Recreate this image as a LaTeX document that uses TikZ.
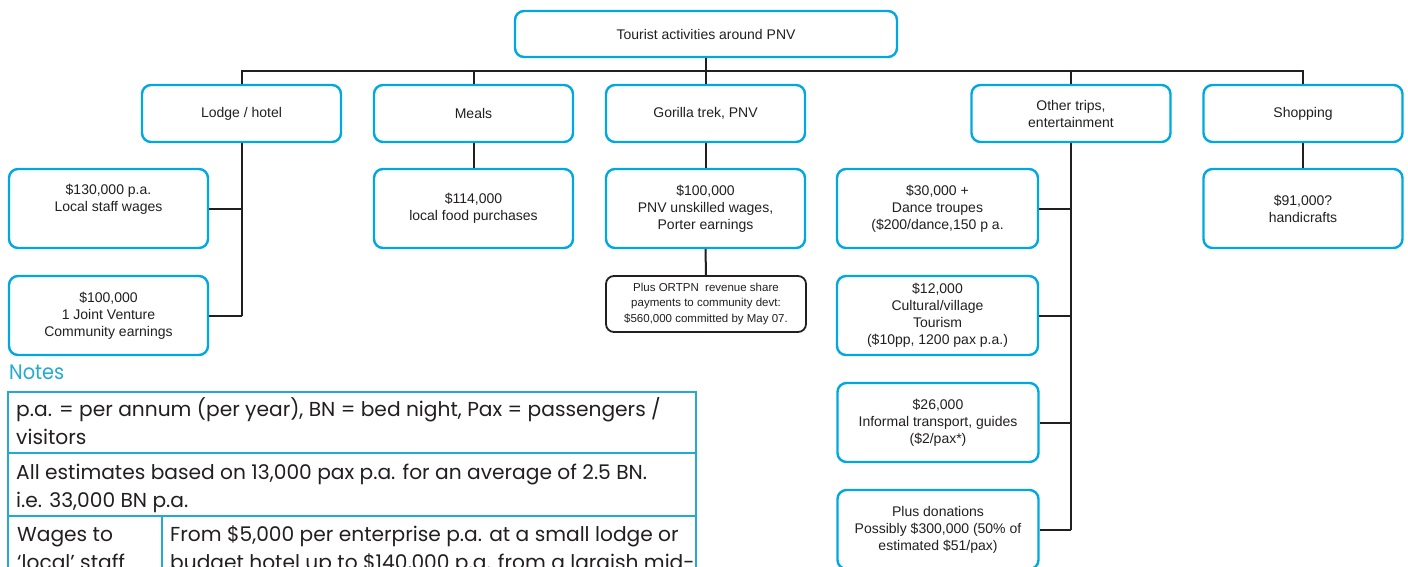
\documentclass[tikz,border=0pt]{standalone}
\usepackage{fontspec}
\setmainfont{Liberation Sans}
\newfontfamily\notesfont{Poppins}
\newfontfamily\notesheadfont[FakeStretch=0.92]{Poppins}
\definecolor{boxcyan}{RGB}{0,168,226}
\definecolor{notecyan}{RGB}{35,170,210}
\definecolor{ink}{RGB}{35,31,32}
\begin{document}
\begin{tikzpicture}[x=1pt,y=-1pt,
  box/.style={draw=boxcyan, line width=2.4pt, rounded corners=9pt, fill=white, text=ink,
    align=center, font=\fontsize{14}{17}\selectfont, inner sep=0pt, minimum width=199pt},
  lone/.style={box, minimum height=57pt},
  ltwo/.style={box, minimum height=79pt},
  ortpnbox/.style={draw=ink, line width=1.8pt, rounded corners=8pt, fill=white, text=ink,
    align=center, font=\fontsize{11.5}{15.5}\selectfont, inner sep=0pt,
    minimum width=200pt, minimum height=56pt},
  conn/.style={draw=ink, line width=2pt},
  tab/.style={draw=notecyan, line width=1.3pt},
  note/.style={anchor=base west, text=ink, font=\notesfont\fontsize{20.2}{28}\selectfont, inner sep=0pt}]
\useasboundingbox (0,0) rectangle (1408,567);
\clip (0,0) rectangle (1408,567);
\fill[white] (0,0) rectangle (1408,567);

% nodes
\node[box, minimum width=382pt, minimum height=46pt] (root) at (706,34) {Tourist activities around PNV};
\node[lone] (lodge) at (241.5,113.5) {Lodge / hotel};
\node[lone] (meals) at (473.5,113.5) {Meals};
\node[lone] (gorilla) at (705.5,113.5) {Gorilla trek, PNV};
\node[lone] (other) at (1071,113.5) {Other trips,\\entertainment};
\node[lone] (shop) at (1303,113.5) {Shopping};

\node[ltwo] (wages) at (108.5,208.5) {\$130,000 p.a.\\Local staff wages\\\strut};
\node[ltwo] (food) at (473.5,208.5) {\$114,000\\local food purchases};
\node[ltwo] (porter) at (705.5,208.5) {\$100,000\\PNV unskilled wages,\\Porter earnings};
\node[ltwo, minimum width=201pt] (dance) at (937.5,208.5) {\$30,000 +\\Dance troupes\\(\$200/dance,150 p a.};
\node[ltwo] (craft) at (1303,208.5) {\$91,000?\\handicrafts};
\node[ltwo] (jv) at (108.5,315.5) {\$100,000\\1 Joint Venture\\Community earnings};
\node[ortpnbox] (ortpn) at (706,304) {Plus ORTPN\ \ revenue share\\payments to community devt:\\\$560,000 committed by May 07.};
\node[ltwo, minimum width=201pt] (cult) at (937.5,315.5) {\$12,000\\Cultural/village\\Tourism\\(\$10pp, 1200 pax p.a.)};
\node[ltwo, minimum width=201pt] (inf) at (938,422.5) {\$26,000\\Informal transport, guides\\(\$2/pax*)};
\node[ltwo, minimum width=201pt] (don) at (938,529.5) {Plus donations\\Possibly \$300,000 (50\% of\\estimated \$51/pax)};

% connectors
\coordinate (bus) at (706,71);
\draw[conn] (root.south) -- (root.south |- bus);
\draw[conn] (lodge.north) |- (bus) -| (shop.north);
\draw[conn] (meals.north) -- (meals.north |- bus);
\draw[conn] (gorilla.north) -- (gorilla.north |- bus);
\draw[conn] (other.north) -- (other.north |- bus);

\draw[conn] (lodge.south) -- (lodge.south |- jv.east);
\draw[conn] (wages.east) -- (wages.east -| lodge.south);
\draw[conn] (jv.east) -- (jv.east -| lodge.south);

\draw[conn] (meals.south) -- (food.north);
\draw[conn] (gorilla.south) -- (porter.north);
\draw[conn] (porter.south) -- (ortpn.north);
\draw[conn] (shop.south) -- (craft.north);

\draw[conn] (other.south) -- (other.south |- don.east);
\draw[conn] (dance.east) -- (dance.east -| other.south);
\draw[conn] (cult.east) -- (cult.east -| other.south);
\draw[conn] (inf.east) -- (inf.east -| other.south);
\draw[conn] (don.east) -- (don.east -| other.south);

% notes
\node[anchor=base west, text=notecyan, font=\notesheadfont\fontsize{21}{24}\selectfont, inner sep=0pt] (notes) at (9,379) {Notes};
\draw[tab] (8,392) rectangle (696,600);
\draw[tab] (8,453) -- (696,453);
\draw[tab] (8,516) -- (696,516);
\draw[tab] (162,516) -- (162,600);
\node[note] (n1) at (16,416) {p.a. = per annum (per year), BN = bed night, Pax = passengers /};
\node[note] (n2) at (16,444) {visitors};
\node[note] (n3) at (16,479) {All estimates based on 13,000 pax p.a. for an average of 2.5 BN.};
\node[note] (n4) at (16,507) {i.e. 33,000 BN p.a.};
\node[note] (n5) at (17,541) {Wages to};
\node[note] (n6) at (17,569) {‘local’ staff};
\node[note] (n7) at (170,541) {From \$5,000 per enterprise p.a. at a small lodge or};
\node[note] (n8) at (170,569) {budget hotel up to \$140,000 p.a. from a largish mid-};
\end{tikzpicture}
\end{document}
